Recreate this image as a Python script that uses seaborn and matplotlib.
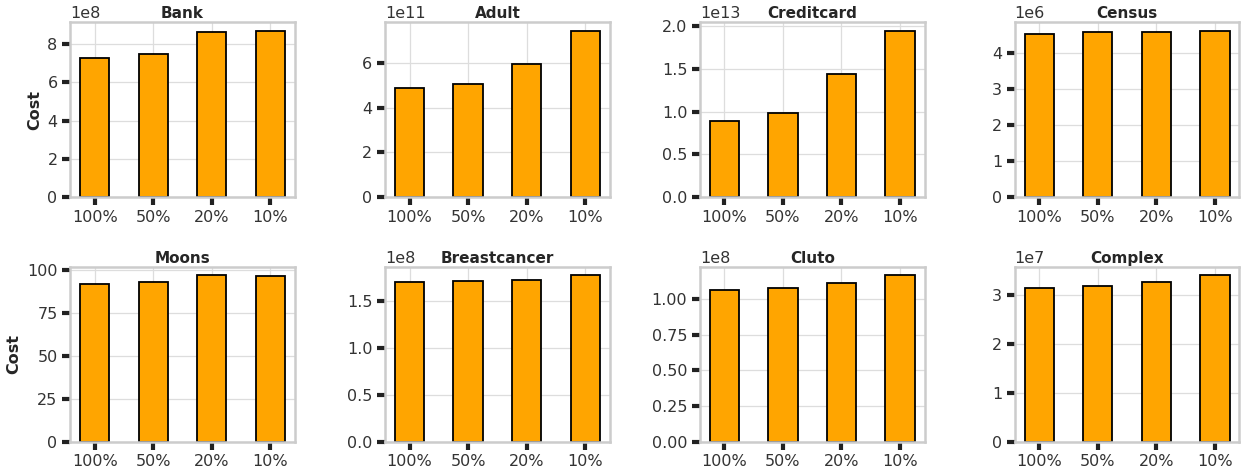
import numpy as np
import pandas as pd
import matplotlib
matplotlib.use("Agg")
import matplotlib.pyplot as plt
import seaborn as sns

# sampling ratios shown on the x axis
ratios = ["100%", "50%", "20%", "10%"]

# cost per dataset
bank = [7.29e8, 7.46e8, 8.61e8, 8.70e8]
adult = [4.87e11, 5.05e11, 5.94e11, 7.44e11]
creditcard = [0.887e13, 0.988e13, 1.44e13, 1.95e13]
census = [4.53e6, 4.56e6, 4.58e6, 4.61e6]
moons = [91.4, 93.0, 96.7, 96.3]
breastcancer = [1.707e8, 1.718e8, 1.729e8, 1.775e8]
cluto = [1.061e8, 1.073e8, 1.112e8, 1.164e8]
complex_ = [3.144e7, 3.185e7, 3.26e7, 3.397e7]

datasets = ["Bank", "Adult", "Creditcard", "Census",
            "Moons", "Breastcancer", "Cluto", "Complex"]
costs = [bank, adult, creditcard, census, moons, breastcancer, cluto, complex_]

sns.set_theme(style="whitegrid", rc={
    "axes.edgecolor": "#cccccc",
    "axes.linewidth": 1.8,
    "grid.color": "#dddddd",
    "grid.linewidth": 0.9,
    "xtick.bottom": True,
    "ytick.left": True,
    "xtick.major.size": 6,
    "ytick.major.size": 6,
    "xtick.major.width": 3,
    "ytick.major.width": 3,
    "xtick.color": "#222222",
    "ytick.color": "#222222",
    "xtick.labelsize": 11.5,
    "ytick.labelsize": 11.5,
    "axes.titlesize": 11,
    "axes.titleweight": "bold",
    "axes.labelweight": "bold",
    "axes.labelsize": 11.5,
})
plt.rcParams['font.family'] = ['DejaVu Sans']

fig, axes = plt.subplots(2, 4, figsize=(12.52, 4.75), dpi=100)
fig.subplots_adjust(left=0.056, right=0.990, top=0.953, bottom=0.070,
                    wspace=0.40, hspace=0.40)

for i, (name, vals) in enumerate(zip(datasets, costs)):
    ax = axes.flat[i]
    df = pd.DataFrame({"ratio": ratios, "cost": vals})
    sns.barplot(data=df, x="ratio", y="cost", ax=ax, color="orange",
                saturation=1, edgecolor="black", linewidth=1.3, width=0.5)
    ax.set_xlim(-0.42, 3.42)
    ax.set_title(name, pad=3)
    ax.set_xlabel("")
    ax.set_ylabel("Cost" if i % 4 == 0 else "")
    ax.tick_params(axis="x", labelcolor="#333333", pad=3)
    ax.tick_params(axis="y", labelcolor="#333333", pad=3)
    ax.yaxis.get_offset_text().set_fontsize(11.5)
    ax.yaxis.get_offset_text().set_color("#333333")
    ax.xaxis.grid(True)
    ax.set_axisbelow(True)

fig.savefig("out.png", dpi=100)
